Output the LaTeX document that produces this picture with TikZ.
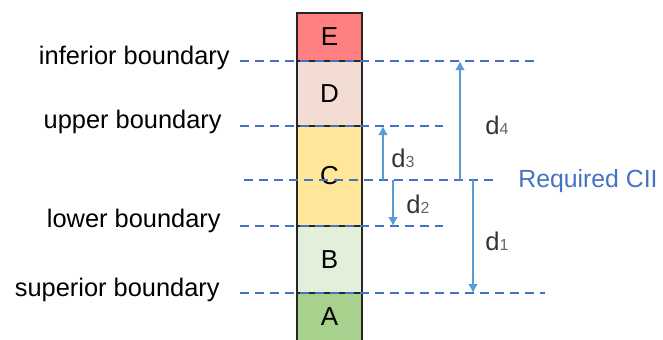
\documentclass[tikz,border=0pt]{standalone}
\usepackage{fontspec}
\setmainfont{Liberation Sans}
\usetikzlibrary{positioning,calc,arrows.meta}
\definecolor{lineblue}{RGB}{68,114,196}
\definecolor{arrowblue}{RGB}{91,155,213}
\definecolor{cellE}{RGB}{255,128,128}
\definecolor{cellD}{RGB}{242,220,212}
\definecolor{cellC}{RGB}{255,230,153}
\definecolor{cellB}{RGB}{226,239,218}
\definecolor{cellA}{RGB}{169,209,142}

\begin{document}
\begin{tikzpicture}[x=0.5pt,y=0.5pt,
    cell/.style={draw=black!85, line width=1pt, minimum width=32.5pt, inner sep=0pt, outer sep=0pt, font=\fontsize{13}{15}\selectfont},
    bound/.style={lineblue, line width=1.1pt, dash pattern=on 4.5pt off 3pt},
    gap/.style={arrowblue, line width=1.1pt, -{Latex[length=4.5pt,width=5pt]}},
    blabel/.style={anchor=east, inner sep=0pt, font=\fontsize{12.7}{15}\selectfont},
    dlabel/.style={inner sep=0pt, text=black!80, font=\fontsize{12.8}{15}\selectfont}
]
    \useasboundingbox (0,0) rectangle (663,339);
    % Column of classes
    \node[cell, fill=cellE, minimum height=24pt] (E) at (329.5,302) {E};
    \node[cell, fill=cellD, minimum height=32.5pt, below=0pt of E] (D) {D};
    \node[cell, fill=cellC, minimum height=50pt, below=0pt of D] (C) {C};
    \node[cell, fill=cellB, minimum height=33.5pt, below=0pt of C] (B) {B};
    \node[cell, fill=cellA, minimum height=24pt, below=0pt of B] (A) {A};
    % Boundary lines
    \coordinate (inf-l) at (240,278);  \coordinate (inf-r) at (540,278);
    \coordinate (upp-l) at (240,213);  \coordinate (upp-r) at (443,213);
    \coordinate (cii-l) at (244,159);  \coordinate (cii-r) at (493,159);
    \coordinate (low-l) at (240,113);  \coordinate (low-r) at (443,113);
    \coordinate (sup-l) at (240,46);   \coordinate (sup-r) at (545,46);
    \draw[bound] (inf-l) -- (inf-r);
    \draw[bound] (upp-l) -- (upp-r);
    \draw[bound] (cii-l) -- (cii-r);
    \draw[bound] (low-l) -- (low-r);
    \draw[bound] (sup-l) -- (sup-r);
    \node[blabel] (inf) at ([xshift=-5pt,yshift=1.5pt]inf-l) {inferior boundary};
    \node[blabel] (upp) at ([xshift=-9pt,yshift=2pt]upp-l) {upper boundary};
    \node[blabel] (low) at ([xshift=-9.5pt,yshift=2.5pt]low-l) {lower boundary};
    \node[blabel] (sup) at ([xshift=-10pt,yshift=1.5pt]sup-l) {superior boundary};
    \node[anchor=west, inner sep=0pt, text=lineblue, font=\fontsize{12.4}{15}\selectfont] (cii) at (518,158) {Required CII};
    % Distances
    \coordinate (d4-s) at (460,159);
    \coordinate (d3-s) at (383,159);
    \coordinate (d2-s) at (393,159);
    \coordinate (d1-s) at (473,159);
    \draw[gap] (d4-s) -- (d4-s |- inf-l);
    \draw[gap] (d3-s) -- (d3-s |- upp-l);
    \draw[gap] (d2-s) -- (d2-s |- low-l);
    \draw[gap] (d1-s) -- (d1-s |- sup-l);
    \node[dlabel] (d4) at (497,214) {d{\fontsize{8}{9}\selectfont\textcolor{black!60}{4}}};
    \node[dlabel] (d3) at (403,181) {d{\fontsize{8}{9}\selectfont\textcolor{black!60}{3}}};
    \node[dlabel] (d2) at (418,135) {d{\fontsize{8}{9}\selectfont\textcolor{black!60}{2}}};
    \node[dlabel] (d1) at (497,98) {d{\fontsize{8}{9}\selectfont\textcolor{black!60}{1}}};
\end{tikzpicture}
\end{document}
